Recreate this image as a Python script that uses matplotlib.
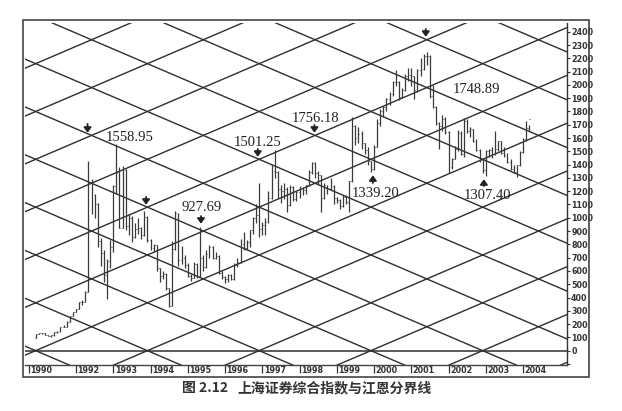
import matplotlib
matplotlib.use("Agg")
import matplotlib.pyplot as plt
from matplotlib.patches import Rectangle
import numpy as np

# ---------------- data (monthly bars, Dec 1990 - Mar 2004) ----------------
start_year = 1990
start_month = 12
opens = [96, 128, 130, 133, 120, 114, 115, 138, 144, 178, 181, 218, 260,
         293, 313, 364, 367, 445, 1265, 1172, 1100, 823, 737, 571, 671,
         780, 1240, 1336, 925, 1358, 936, 1001, 859, 912, 920, 872, 1007,
         834, 771, 793, 622, 562, 580, 468, 334, 763, 1033, 682, 696,
         647, 563, 549, 650, 560, 700, 630, 724, 777, 700, 716, 587,
         555, 537, 570, 538, 643, 669, 806, 770, 814, 905, 1001, 1019,
         917, 948, 969, 1150, 1353, 1342, 1218, 1204, 1218, 1097, 1230, 1140,
         1194, 1222, 1206, 1243, 1343, 1411, 1339, 1319, 1150, 1245, 1218, 1242,
         1146, 1134, 1090, 1158, 1120, 1279, 1689, 1601, 1627, 1561, 1512, 1426,
         1367, 1535, 1714, 1800, 1836, 1894, 1928, 2023, 2022, 1910, 1961, 2070,
         2073, 2065, 1960, 2112, 2119, 2214, 2218, 1920, 1834, 1717, 1689, 1747,
         1645, 1383, 1445, 1517, 1636, 1482, 1732, 1651, 1666, 1581, 1508, 1434,
         1357, 1500, 1511, 1480, 1521, 1576, 1487, 1476, 1421, 1367, 1348, 1397,
         1497, 1590, 1675]
highs = [128, 135, 134, 134, 121, 115, 138, 145, 180, 190, 220, 260, 293,
         315, 365, 380, 450, 1429, 1290, 1180, 1110, 850, 760, 690, 830,
         1250, 1559, 1380, 1392, 1370, 1030, 1010, 960, 1000, 930, 1050, 1010,
         840, 800, 795, 625, 600, 585, 470, 825, 1053, 1035, 790, 720,
         660, 580, 670, 660, 927, 720, 760, 792, 790, 740, 720, 600,
         560, 580, 580, 660, 700, 840, 890, 830, 910, 1005, 1100, 1259,
         970, 1000, 1200, 1400, 1510, 1350, 1250, 1260, 1230, 1250, 1240, 1200,
         1240, 1230, 1250, 1360, 1420, 1423, 1350, 1320, 1260, 1250, 1300, 1250,
         1160, 1140, 1170, 1170, 1280, 1756, 1700, 1680, 1650, 1565, 1530, 1430,
         1545, 1740, 1820, 1840, 1900, 1950, 2030, 2114, 2030, 1980, 2080, 2125,
         2131, 2070, 2120, 2200, 2230, 2245, 2225, 2000, 1840, 1720, 1776, 1760,
         1650, 1450, 1540, 1660, 1650, 1749, 1740, 1680, 1670, 1590, 1520, 1440,
         1510, 1520, 1530, 1650, 1580, 1580, 1530, 1490, 1440, 1400, 1400, 1500,
         1600, 1730, 1700]
lows = [96, 127, 129, 120, 114, 105, 114, 136, 144, 175, 180, 218, 258,
        290, 312, 340, 367, 445, 1030, 1000, 780, 640, 520, 387, 620,
        740, 1180, 920, 920, 910, 870, 820, 850, 880, 840, 860, 820,
        760, 740, 600, 520, 540, 460, 326, 334, 760, 640, 650, 620,
        555, 524, 545, 550, 555, 600, 620, 700, 690, 690, 580, 540,
        512, 520, 530, 535, 630, 660, 760, 760, 780, 880, 960, 855,
        870, 870, 960, 1140, 1300, 1150, 1110, 1140, 1040, 1090, 1130, 1130,
        1150, 1170, 1180, 1240, 1330, 1300, 1250, 1043, 1140, 1180, 1210, 1100,
        1110, 1065, 1080, 1100, 1047, 1270, 1550, 1560, 1520, 1480, 1400, 1341,
        1361, 1530, 1690, 1760, 1800, 1850, 1920, 1990, 1890, 1900, 1955, 2030,
        1990, 1893, 1950, 2070, 2110, 2150, 1900, 1830, 1700, 1514, 1650, 1630,
        1339, 1370, 1440, 1500, 1470, 1455, 1640, 1610, 1570, 1500, 1420, 1340,
        1312, 1460, 1450, 1470, 1500, 1480, 1460, 1410, 1360, 1340, 1307, 1390,
        1490, 1580, 1650]
closes = [128, 130, 133, 120, 114, 115, 138, 144, 178, 181, 218, 260, 293,
          313, 364, 367, 445, 1265, 1172, 1100, 823, 737, 571, 671, 780,
          1240, 1336, 925, 1358, 936, 1001, 859, 912, 920, 872, 1007, 834,
          771, 793, 622, 562, 580, 468, 334, 763, 1033, 682, 696, 647,
          563, 549, 650, 560, 700, 630, 724, 777, 700, 716, 587, 555,
          537, 570, 538, 643, 669, 806, 770, 814, 905, 1001, 1019, 917,
          948, 969, 1150, 1353, 1342, 1218, 1204, 1218, 1097, 1230, 1140, 1194,
          1222, 1206, 1243, 1343, 1411, 1339, 1319, 1150, 1245, 1218, 1242, 1146,
          1134, 1090, 1158, 1120, 1279, 1689, 1601, 1627, 1561, 1512, 1426, 1367,
          1535, 1714, 1800, 1836, 1894, 1928, 2023, 2022, 1910, 1961, 2070, 2073,
          2065, 1960, 2112, 2119, 2214, 2218, 1920, 1834, 1717, 1689, 1747, 1645,
          1383, 1445, 1517, 1636, 1482, 1732, 1651, 1666, 1581, 1508, 1434, 1357,
          1500, 1511, 1480, 1521, 1576, 1487, 1476, 1421, 1367, 1348, 1397, 1497,
          1590, 1675, 1742]

year_ticks = [1990.74] + list(range(1992, 2005))
year_labels = ["1990"] + [str(y) for y in range(1992, 2005)]
price_ticks = list(range(-100, 2500, 100))
price_labels = [""] + [str(v) for v in range(0, 2500, 100)]

# Gann grid: anchor Dec 1990 at 0, 10 points per month, 360 points apart
gann_anchor = 1990 + 11 / 12
gann_slope = 120.0
gann_step = 360.0

labels = [("1558.95", 1993.45, 1608), ("1501.25", 1996.886, 1570),
          ("1756.18", 1998.43, 1751), ("1748.89", 2002.74, 1969),
          ("927.69", 1995.37, 1077), ("1339.20", 2000.05, 1183),
          ("1307.40", 2003.05, 1164)]
down_arrows = [(1992.31, 1706, 1640), (1993.88, 1157, 1098), (1995.355, 1013, 955),
               (1996.88, 1518, 1459), (1998.40, 1698, 1640), (2001.39, 2421, 2362)]
up_arrows = [(1999.97, 1262, 1320), (2002.95, 1239, 1290)]

caption_num = "图 2.12"
caption_txt = "上海证券综合指数与江恩分界线"

# ---------------- figure ----------------
W, H = 622, 411
fig = plt.figure(figsize=(W / 100, H / 100), dpi=100)
fig.patch.set_facecolor("white")
L, R, T, B = 25, 567, 23, 365
ax = fig.add_axes([L / W, 1 - B / H, (R - L) / W, (B - T) / H])
xmin = 1992 + (L - 76) / 37.25
xmax = 1992 + (R - 76) / 37.25
ymin, ymax = -108, 2466
ax.set_xlim(xmin, xmax)
ax.set_ylim(ymin, ymax)

gcol = "#2e2e2e"
xs = np.array([xmin - 1, xmax + 1])
for k in range(-12, 12):
    ax.plot(xs, gann_slope * (xs - gann_anchor) + gann_step * k, color=gcol, lw=1.0,
            solid_capstyle="butt", zorder=1)
    ax.plot(xs, -gann_slope * (xs - gann_anchor) + gann_step * k, color=gcol, lw=1.0,
            solid_capstyle="butt", zorder=1)
ax.axhline(0, color=gcol, lw=1.1, zorder=1)

# OHLC bars
n = len(closes)
t = start_year + (start_month - 1) / 12 + np.arange(n) / 12
bcol = "#3a3a3a"
ax.vlines(t, lows, highs, color=bcol, lw=0.9, zorder=3)
dt = 0.3 / 12
ax.hlines(opens, t - dt, t, color=bcol, lw=0.7, zorder=3)
ax.hlines(closes, t, t + dt, color=bcol, lw=0.7, zorder=3)

# annotations
for txt, x, y in labels:
    ax.text(x, y, txt, ha="center", va="center", fontsize=10.5,
            family="Liberation Serif", color="#222222", zorder=5)
aprops = dict(arrowstyle="-|>,head_width=0.22,head_length=0.3", color="#222222",
              lw=1.3, shrinkA=0, shrinkB=0)
for x, y0, y1 in down_arrows + up_arrows:
    ax.annotate("", xy=(x, y1), xytext=(x, y0), arrowprops=aprops, zorder=5)

# axes styling
for s in ["left", "top"]:
    ax.spines[s].set_visible(False)
ax.spines["right"].set_color("#333333")
ax.spines["right"].set_linewidth(1.0)
ax.spines["bottom"].set_color("#444444")
ax.spines["bottom"].set_linestyle((0, (1.5, 1.0)))
ax.spines["bottom"].set_linewidth(1.0)

ax.yaxis.tick_right()
ax.set_yticks(price_ticks, price_labels)
ax.tick_params(axis="y", direction="out", length=2.5, width=0.8, pad=0.5,
               colors="#333333", labelsize=5.8)
for lab in ax.get_yticklabels():
    lab.set_family(["Liberation Sans Narrow", "DejaVu Sans"])
    lab.set_weight("bold")

ax.set_xticks(year_ticks, year_labels)
ax.tick_params(axis="x", direction="out", length=6, width=0.9, pad=-5.0,
               colors="#333333", labelsize=5.8)
for lab in ax.get_xticklabels():
    lab.set_ha("left")
    lab.set_family(["Liberation Sans Narrow", "DejaVu Sans"])
    lab.set_weight("bold")
from matplotlib.transforms import ScaledTranslation
off = ScaledTranslation(1.5 / 100, 0, fig.dpi_scale_trans)
for lab in ax.get_xticklabels():
    lab.set_transform(lab.get_transform() + off)

# outer frame
fig.add_artist(Rectangle((23 / W, 1 - 377 / H), (589 - 23) / W, (377 - 20) / H,
                         transform=fig.transFigure, fill=False, ec="#444444", lw=1.2))

# caption
fig.text(182 / W, 1 - 388 / H, caption_num, ha="left", va="center", fontsize=10,
         family=["Noto Sans CJK SC", "DejaVu Sans"], weight="bold", color="#333333")
fig.text(237 / W, 1 - 388 / H, caption_txt, ha="left", va="center", fontsize=10,
         family=["Noto Sans CJK SC", "DejaVu Sans"], weight="bold", color="#333333")

fig.savefig("out.png", dpi=100, facecolor="white")
